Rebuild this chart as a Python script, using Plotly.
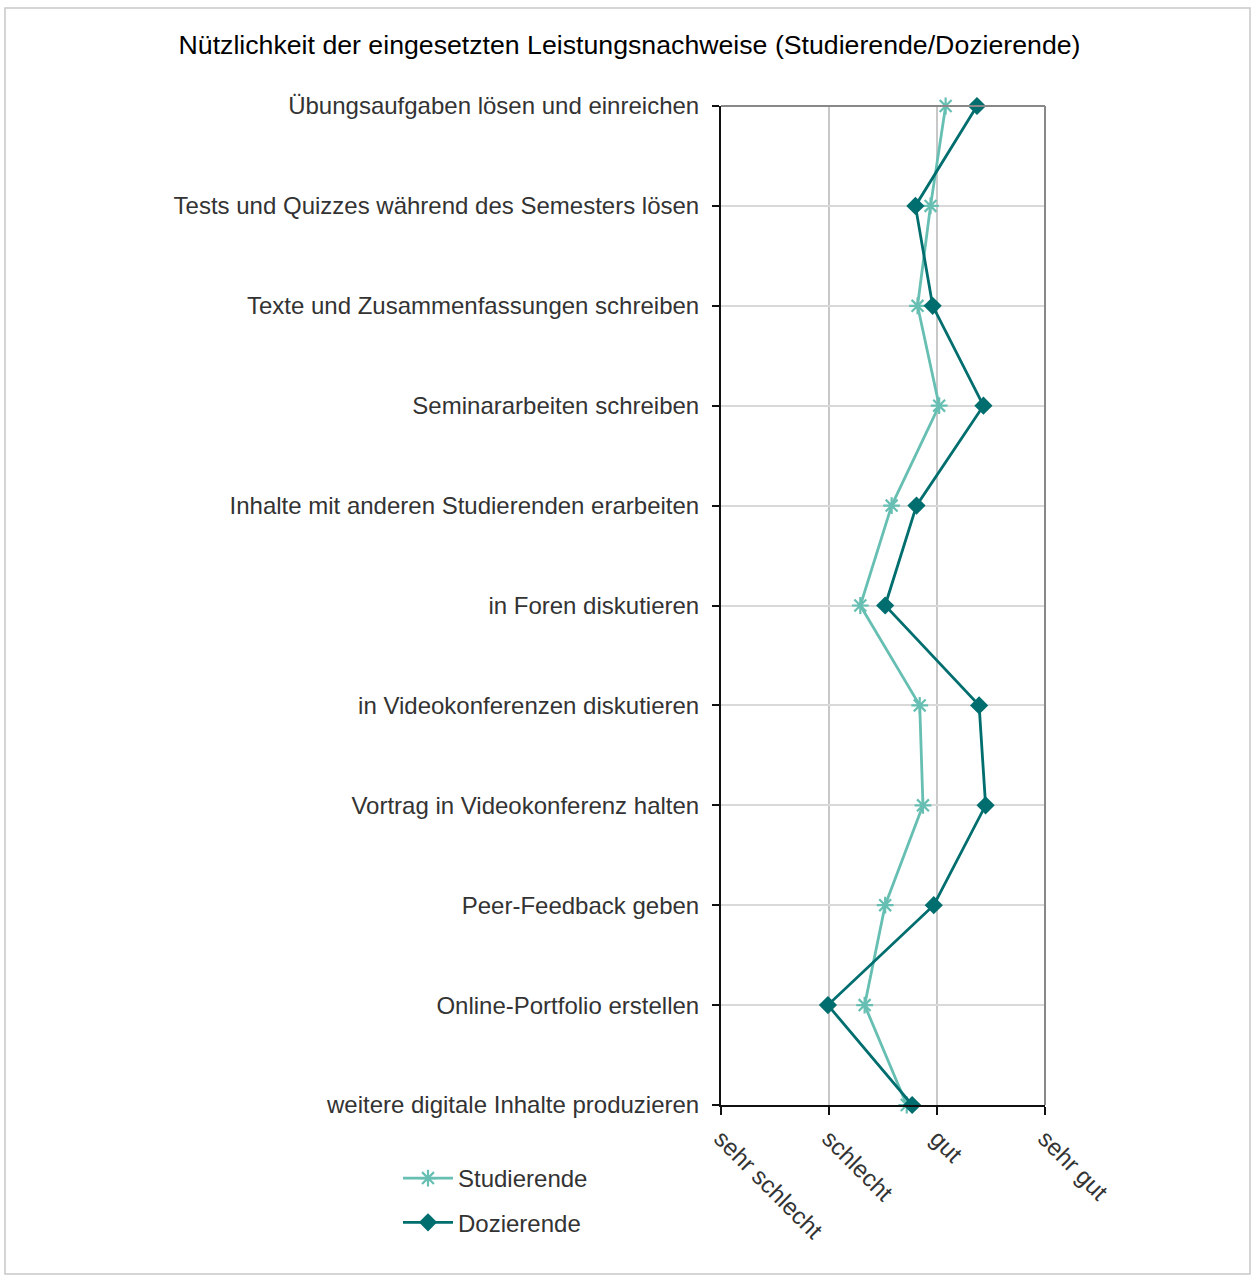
import plotly.graph_objects as go

categories = [
    "Übungsaufgaben lösen und einreichen",
    "Tests und Quizzes während des Semesters lösen",
    "Texte und Zusammenfassungen schreiben",
    "Seminararbeiten schreiben",
    "Inhalte mit anderen Studierenden erarbeiten",
    "in Foren diskutieren",
    "in Videokonferenzen diskutieren",
    "Vortrag in Videokonferenz halten",
    "Peer-Feedback geben",
    "Online-Portfolio erstellen",
    "weitere digitale Inhalte produzieren",
]
studierende = [3.08, 2.94, 2.82, 3.02, 2.58, 2.29, 2.84, 2.87, 2.52, 2.33, 2.72]
dozierende = [3.37, 2.80, 2.96, 3.43, 2.81, 2.52, 3.39, 3.45, 2.97, 1.99, 2.77]
x_tickvals = [1, 2, 3, 4]
x_ticktext = ["sehr schlecht", "schlecht", "gut", "sehr gut"]

FONT = "Liberation Sans, Arial, sans-serif"
TXT = "#333333"

fig = go.Figure()
fig.add_trace(go.Scatter(
    x=studierende, y=categories, mode="lines+markers", name="Studierende",
    legendgroup="s",
    line=dict(color="#66bfb2", width=2.8),
    marker=dict(symbol="asterisk-open", size=14, color="#66bfb2",
                line=dict(color="#66bfb2", width=2.2)),
    cliponaxis=False,
))
fig.add_trace(go.Scatter(
    x=dozierende, y=categories, mode="lines+markers", name="Dozierende",
    legendgroup="d",
    line=dict(color="#006e6e", width=2.8),
    marker=dict(symbol="diamond", size=14, color="#006e6e"),
    cliponaxis=False,
))

fig.update_layout(
    width=1254, height=1277,
    margin=dict(l=721, r=209, t=106, b=172),
    paper_bgcolor="white", plot_bgcolor="white",
    font=dict(family=FONT, size=24, color=TXT),
    title=dict(text="Nützlichkeit der eingesetzten Leistungsnachweise (Studierende/Dozierende)",
               x=(179 + 1080) / 2 / 1254, xref="container", xanchor="center",
               y=1 - 45 / 1277, yanchor="middle",
               font=dict(family=FONT, size=26.7, color="#000000")),
    showlegend=True,
    legend=dict(x=(398 - 721) / 324, xanchor="left", y=(1105 - 1156) / 999, yanchor="top",
                font=dict(family=FONT, size=24, color=TXT),
                bgcolor="rgba(0,0,0,0)", tracegroupgap=10, itemwidth=50),
    xaxis=dict(
        range=[1, 4], tickvals=x_tickvals, ticktext=x_ticktext, tickangle=45,
        showgrid=True, gridcolor="#c8c8c8", gridwidth=1.5,
        showline=True, linecolor="#111111", linewidth=2,
        ticks="outside", ticklen=8, tickcolor="#111111", tickwidth=2,
        zeroline=False, tickfont=dict(family=FONT, size=24, color=TXT),
        mirror=False,
    ),
    yaxis=dict(
        type="category", categoryorder="array", categoryarray=categories,
        range=[10, 0],
        showgrid=True, gridcolor="#d9d9d9", gridwidth=1.5,
        showline=True, linecolor="#111111", linewidth=2,
        ticks="outside", ticklen=7, tickcolor="#111111", tickwidth=2,
        ticklabelstandoff=8,
        zeroline=False, tickfont=dict(family=FONT, size=24, color=TXT),
    ),
    shapes=[
        dict(type="line", xref="paper", yref="paper", x0=0, x1=1, y0=1, y1=1,
             line=dict(color="#888888", width=2)),
        dict(type="line", xref="paper", yref="paper", x0=1, x1=1, y0=0, y1=1,
             line=dict(color="#888888", width=2)),
        dict(type="rect", xref="paper", yref="paper",
             x0=(5 - 721) / 324, x1=(1250 - 721) / 324,
             y0=(1105 - 1274) / 999, y1=(1105 - 8) / 999,
             line=dict(color="#c8c8c8", width=1.5), layer="below"),
    ],
)

fig.write_html("out.html")
